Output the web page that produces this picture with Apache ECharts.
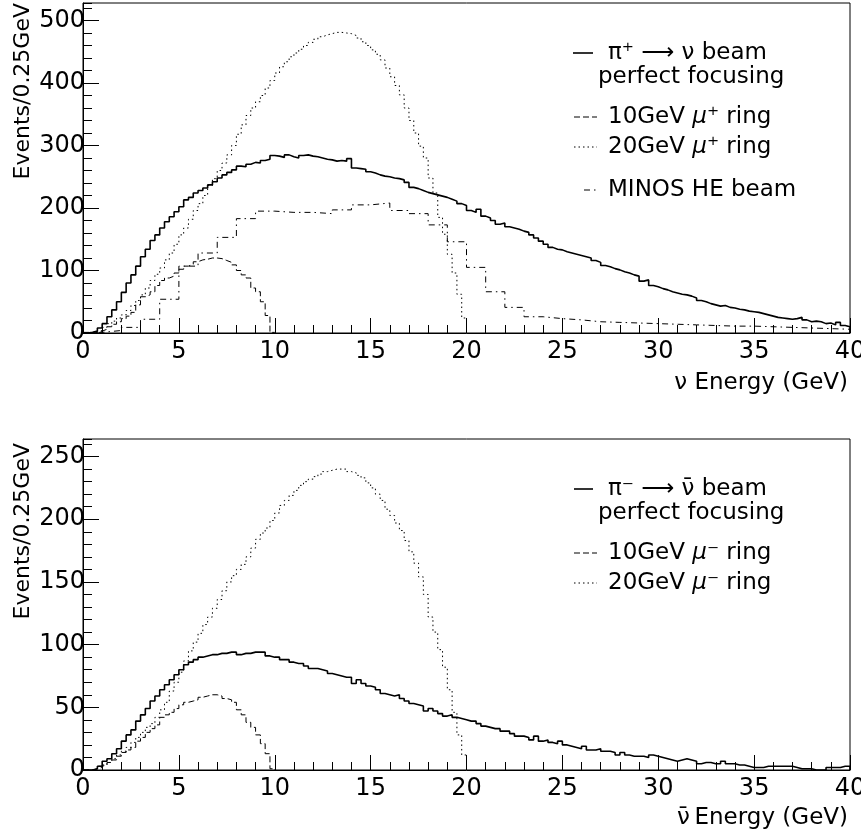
<!DOCTYPE html>
<html>
<head>
<meta charset="utf-8">
<script src="https://cdn.jsdelivr.net/npm/echarts@6/dist/echarts.min.js"></script>
<style>html,body{margin:0;padding:0;background:#fff}#c{width:861px;height:837px}</style>
</head>
<body>
<div id="c"></div>
<script>
// ---------- data (events per 0.25 GeV) ----------
const binWidth = 0.25;      // GeV, fine histograms
const minosBinWidth = 1.0;  // GeV, MINOS histogram
const xTickInterval = 5;
const topYMajor = 100, topYMinor = 20, topYMax = 528;
const botYMajor = 50, botYMinor = 10, botYMax = 264;

// top panel: pi+ -> nu beam, perfect focusing (0..40 GeV)
const nuPerfect = [
  0,1,3,8, 15,26,37,50, 65,80,93,107, 122,134,148,157,
  168,178,186,194, 202,213,217,224, 228,232,237,242, 248,253,257,261,
  267,266,270,273, 272,276,278,284, 283,281,285,282, 280,284,285,283,
  282,280,278,277, 275,276,275,279, 264,263,262,258, 256,253,251,250,
  248,247,245,241, 233,231,228,225, 223,221,219,217, 214,211,207,204,
  196,193,198,187, 184,180,174,176, 170,168,166,163, 161,157,152,147,
  142,137,134,133, 130,128,126,124, 122,120,116,113, 108,106,103,101,
  98,96,93,91, 83,85,76,74, 71,69,66,64, 62,61,59,56,
  52,50,47,45, 43,44,41,40, 38,37,35,34, 33,31,29,27,
  25,24,23,22, 23,25,21,18, 19,18,15,16, 13,17,12,10
];
// top panel: 10 GeV mu+ ring (0..10 GeV)
const nuRing10 = [
  0,0,1,3, 6,10,14,18, 23,27,33,45, 58,61,66,76, 84,88,91,96,
  102,107,110,114, 117,118,120,120, 119,116,113,109, 100,93,88,72, 66,50,28,1
];
// top panel: 20 GeV mu+ ring (0..20 GeV)
const nuRing20 = [
  0,0,1,4, 9,15,19,24, 29,36,44,52, 61,72,84,94, 104,117,128,142,
  157,168,182,196, 207,220,236,247, 260,272,285,300, 318,333,348,360, 370,380,392,404,
  416,426,434,442, 448,454,460,465, 470,474,477,479, 481,481,480,479, 476,472,466,460,
  453,446,437,424, 410,396,381,360, 340,320,299,280, 248,224,185,158, 126,96,62,24
];
// top panel: MINOS HE beam (1 GeV bins, 0..40 GeV)
const minosHE = [
  1,4,9,22,54,107,128,153,183,195,
  193,193,191,197,205,208,196,191,173,146,
  105,66,41,26,23,21,18,17,16,15,
  14,13,12,11,11,10,9,8,7,6
];
// bottom panel: pi- -> nubar beam, perfect focusing
const nubarPerfect = [
  0,0,1,3, 7,9,13,17, 23,28,32,39, 44,49,55,59,
  64,68,72,76, 80,84,86,88, 90,91,92,92, 93,93,94,94,
  92,93,93,94, 94,94,91,90, 90,88,88,86, 85,85,83,81,
  81,80,79,77, 76,75,74,74, 69,72,69,67, 66,64,61,60,
  59,60,57,55, 53,52,51,47, 49,47,45,43, 44,42,41,40,
  39,39,37,35, 34,33,33,31, 31,29,27,27, 26,24,27,23,
  24,22,21,23, 20,19,18,17, 19,16,16,17, 15,15,14,12,
  14,12,11,11, 11,10,12,11, 10,9,8,7, 8,9,8,7,
  5,6,6,5, 5,7,5,5, 4,4,3,2, 2,2,3,3,
  3,3,3,3, 2,1,1,1, 0,0,0,2, 2,2,3,3
];
// bottom panel: 10 GeV mu- ring
const nubarRing10 = [
  0,0,1,3, 4,6,8,11, 14,16,18,23, 26,30,33,36, 42,44,46,49,
  52,54,55,56, 58,59,60,60, 59,57,56,54, 48,44,38,34, 28,21,13,1
];
// bottom panel: 20 GeV mu- ring
const nubarRing20 = [
  0,0,1,2, 4,6,9,12, 15,18,22,26, 30,34,37,42, 48,54,63,70,
  78,87,95,102, 109,116,122,129, 136,143,150,155, 160,164,170,177, 184,189,193,199,
  205,211,215,219, 223,227,230,232, 234,236,238,239, 240,240,240,238, 237,235,233,229,
  225,220,215,208, 203,197,191,183, 174,165,154,140, 122,110,96,82, 64,46,28,12
];

// ---------- helpers ----------
function hist(values, w) {
  const d = values.map((v, i) => [i * w, v]);
  d.push([values.length * w, 0]);
  return d;
}
const FONT = 'DejaVu Sans';
const BLACK = '#000';

function xAxisDef(g) {
  return {
    gridIndex: g, type: 'value', min: 0, max: 40, interval: xTickInterval,
    axisLine: {show: true, lineStyle: {color: BLACK, width: 1}},
    axisTick: {show: true, inside: true, length: 15, lineStyle: {color: BLACK, width: 1}},
    minorTick: {show: true, splitNumber: 5, length: 8, lineStyle: {color: BLACK, width: 1}},
    splitLine: {show: false}, minorSplitLine: {show: false},
    axisLabel: {fontFamily: FONT, fontSize: 24, color: BLACK, margin: 7}
  };
}
function yAxisMinor(g, max, interval) {
  return {
    gridIndex: g, type: 'value', min: 0, max: max, interval: interval, position: 'left',
    axisLine: {show: true, lineStyle: {color: BLACK, width: 1}},
    axisTick: {show: true, inside: true, length: 9, lineStyle: {color: BLACK, width: 1}},
    axisLabel: {show: false}, splitLine: {show: false}
  };
}
function yAxisMajor(g, max, interval) {
  return {
    gridIndex: g, type: 'value', min: 0, max: max, interval: interval, position: 'left',
    axisLine: {show: false},
    axisTick: {show: true, inside: true, length: 16, lineStyle: {color: BLACK, width: 1}},
    axisLabel: {fontFamily: FONT, fontSize: 24, color: BLACK, margin: -2, showMaxLabel: false},
    splitLine: {show: false}
  };
}
function series(data, w, xi, yi, lineStyle) {
  return {
    type: 'line', xAxisIndex: xi, yAxisIndex: yi, step: 'end', symbol: 'none',
    silent: true, data: hist(data, w), lineStyle: Object.assign({color: BLACK}, lineStyle)
  };
}
const SOLID = {width: 1.6, type: 'solid'};
const DASHED = {width: 1, type: [6, 3]};
const DOTTED = {width: 1, type: [1.5, 3]};
const DASHDOT = {width: 1, type: [6, 4, 1.5, 4]};

function legendLine(x1, x2, y, style) {
  return {type: 'line', shape: {x1: x1, y1: y, x2: x2, y2: y},
    style: {stroke: BLACK, lineWidth: style.width, lineDash: Array.isArray(style.type) ? style.type : null}};
}
function label(text, x, y, align, size) {
  const fs = size || 23;
  return {type: 'text', x: x, y: y,
    style: {text: text, fill: BLACK, fontFamily: FONT, fontSize: fs,
      textAlign: align || 'left', textVerticalAlign: 'middle',
      rich: {it: {fontFamily: FONT, fontSize: fs, fontStyle: 'italic', fill: BLACK}}}};
}
function vlabel(text, x, y) {
  return {type: 'text', x: x, y: y, rotation: Math.PI / 2,
    style: {text: text, fill: BLACK, fontFamily: FONT, fontSize: 22,
      textAlign: 'right', textVerticalAlign: 'middle'}};
}

const chart = echarts.init(document.getElementById('c'), null, {renderer: 'canvas'});
chart.setOption({
  animation: false,
  backgroundColor: '#fff',
  grid: [
    {left: 83, top: 3, width: 767, height: 330, show: true, borderColor: BLACK, borderWidth: 1,
     backgroundColor: 'transparent', containLabel: false, outerBoundsMode: 'none'},
    {left: 83, top: 439, width: 767, height: 331, show: true, borderColor: BLACK, borderWidth: 1,
     backgroundColor: 'transparent', containLabel: false, outerBoundsMode: 'none'}
  ],
  xAxis: [xAxisDef(0), xAxisDef(1)],
  yAxis: [
    yAxisMinor(0, topYMax, topYMinor), yAxisMajor(0, topYMax, topYMajor),
    yAxisMinor(1, botYMax, botYMinor), yAxisMajor(1, botYMax, botYMajor)
  ],
  series: [
    series(nuPerfect, binWidth, 0, 0, SOLID),
    series(nuRing10, binWidth, 0, 0, DASHED),
    series(nuRing20, binWidth, 0, 0, DOTTED),
    series(minosHE, minosBinWidth, 0, 0, DASHDOT),
    series(nubarPerfect, binWidth, 1, 2, SOLID),
    series(nubarRing10, binWidth, 1, 2, DASHED),
    series(nubarRing20, binWidth, 1, 2, DOTTED)
  ],
  graphic: [
    // top legend
    legendLine(573, 593, 53, SOLID),
    label('π⁺ ⟶ ν beam', 608, 53),
    label('perfect focusing', 598, 77),
    legendLine(574, 597, 117, DASHED),
    label('10GeV {it|μ}⁺ ring', 608, 117),
    legendLine(574, 597, 147, DOTTED),
    label('20GeV {it|μ}⁺ ring', 608, 147),
    legendLine(584, 597, 190, DASHDOT),
    label('MINOS HE beam', 608, 190),
    // bottom legend
    legendLine(574, 593, 489, SOLID),
    label('π⁻ ⟶ ν̄ beam', 608, 489),
    label('perfect focusing', 598, 513),
    legendLine(574, 597, 553, DASHED),
    label('10GeV {it|μ}⁻ ring', 608, 553),
    legendLine(574, 597, 583, DOTTED),
    label('20GeV {it|μ}⁻ ring', 608, 583),
    // axis titles
    label('ν Energy (GeV)', 848, 383, 'right'),
    label('ν̄\u2009Energy (GeV)', 848, 818, 'right'),
    vlabel('Events/0.25GeV', 23, 3),
    vlabel('Events/0.25GeV', 23, 443)
  ]
});
</script>
</body>
</html>
